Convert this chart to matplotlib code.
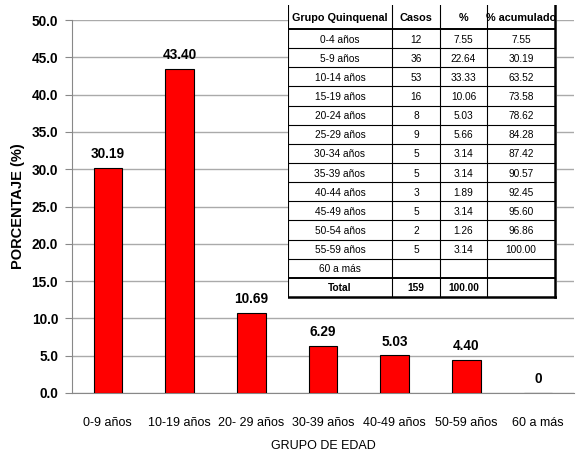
import matplotlib
matplotlib.use("Agg")
import matplotlib.pyplot as plt

grupos = ["0-9 años", "10-19 años", "20- 29 años", "30-39 años",
          "40-49 años", "50-59 años", "60 a más"]
porcentaje = [30.19, 43.40, 10.69, 6.29, 5.03, 4.40, 0]

# tabla quinquenal
tabla_grupo = ["0-4 años", "5-9 años", "10-14 años", "15-19 años", "20-24 años",
               "25-29 años", "30-34 años", "35-39 años", "40-44 años",
               "45-49 años", "50-54 años", "55-59 años", "60 a más"]
tabla_casos = ["12", "36", "53", "16", "8", "9", "5", "5", "3", "5", "2", "5", ""]
tabla_pct = ["7.55", "22.64", "33.33", "10.06", "5.03", "5.66", "3.14",
             "3.14", "1.89", "3.14", "1.26", "3.14", ""]
tabla_acum = ["7.55", "30.19", "63.52", "73.58", "78.62", "84.28", "87.42",
              "90.57", "92.45", "95.60", "96.86", "100.00", ""]
tabla_header = ["Grupo Quinquenal", "Casos", "%", "% acumulado"]
tabla_total = ["Total", "159", "100.00", ""]

W, H = 579, 467
CHART_FONT = ["Liberation Sans", "DejaVu Sans"]
TABLE_FONT = ["Liberation Sans", "DejaVu Sans"]

fig = plt.figure(figsize=(W / 100, H / 100), dpi=100)
ax = fig.add_axes([72 / W, 1 - 393 / H, (574 - 72) / W, (393 - 20) / H])

x = range(len(grupos))
ax.bar(x, porcentaje, width=0.4, color="#FF0000", edgecolor="black",
       linewidth=0.8, zorder=3)
for xi, v in zip(x, porcentaje):
    txt = "0" if v == 0 else f"{v:.2f}"
    ax.annotate(txt, (xi, v), xytext=(0, 5), textcoords="offset points",
                ha="center", va="bottom", fontsize=9.8, fontweight="bold",
                family=CHART_FONT)

ax.set_xlim(-0.5, len(grupos) - 0.5)
ax.set_ylim(0, 50)
ax.set_yticks([i * 5 for i in range(11)])
ax.set_yticklabels([f"{i * 5:.1f}" for i in range(11)], fontsize=9.8,
                   fontweight="bold", family=CHART_FONT)
ax.set_xticks(list(x))
ax.set_xticklabels(grupos, fontsize=9, family=CHART_FONT)
ax.tick_params(axis="x", length=0, pad=17)
ax.tick_params(axis="y", length=5, color="#888888", pad=5)
ax.grid(axis="y", color="#aaaaaa", linewidth=1, zorder=0)
for s in ["top", "right"]:
    ax.spines[s].set_visible(False)
ax.spines["left"].set_color("#888888")
ax.spines["bottom"].set_color("#888888")

ax.set_ylabel("PORCENTAJE (%)", fontsize=10.5, fontweight="bold",
              family=CHART_FONT, labelpad=5)
ax.set_xlabel("GRUPO DE EDAD", fontsize=9, family=CHART_FONT, labelpad=8)

# tabla en pixeles
tx0, tx1, ty0, ty1 = 288, 557, 5, 299
tax = fig.add_axes([tx0 / W, 1 - ty1 / H, (tx1 - tx0) / W, (ty1 - ty0) / H])
tax.set_xlim(tx0, tx1)
tax.set_ylim(ty1, ty0)
tax.axis("off")
tax.add_patch(plt.Rectangle((tx0, ty0), tx1 - tx0, ty1 - ty0,
                            facecolor="white", edgecolor="none", zorder=0))

cols = [288, 392, 440, 487, 555]
header_bottom = 29
row_h = (297 - header_bottom) / 14
rows = [header_bottom + i * row_h for i in range(15)]

for cx in cols[:-1]:
    tax.plot([cx, cx], [ty0, 297], color="black", lw=0.8)
tax.plot([555, 555], [ty0, 297], color="black", lw=1.8)
tax.plot([288, 555], [header_bottom, header_bottom], color="black", lw=1.4)
for ry in rows[1:-2]:
    tax.plot([288, 555], [ry, ry], color="black", lw=0.8)
tax.plot([288, 555], [rows[-2], rows[-2]], color="black", lw=1.4)
tax.plot([288, 556], [297, 297], color="black", lw=1.8)

centers = [(cols[i] + cols[i + 1]) / 2 for i in range(4)]
for c, h in zip(centers, tabla_header):
    tax.text(c, (ty0 + header_bottom) / 2 + 1, h, ha="center", va="center",
             fontsize=7.8, fontweight="bold", family=TABLE_FONT)
for i in range(len(tabla_grupo)):
    cy = rows[i] + row_h / 2 + 1
    for c, val in zip(centers, [tabla_grupo[i], tabla_casos[i],
                                tabla_pct[i], tabla_acum[i]]):
        tax.text(c, cy, val, ha="center", va="center", fontsize=7.3,
                 family=TABLE_FONT)
cy = rows[-2] + row_h / 2 + 1
for c, val in zip(centers, tabla_total):
    tax.text(c, cy, val, ha="center", va="center", fontsize=7.3,
             fontweight="bold", family=TABLE_FONT)

fig.savefig("out.png", dpi=100)
